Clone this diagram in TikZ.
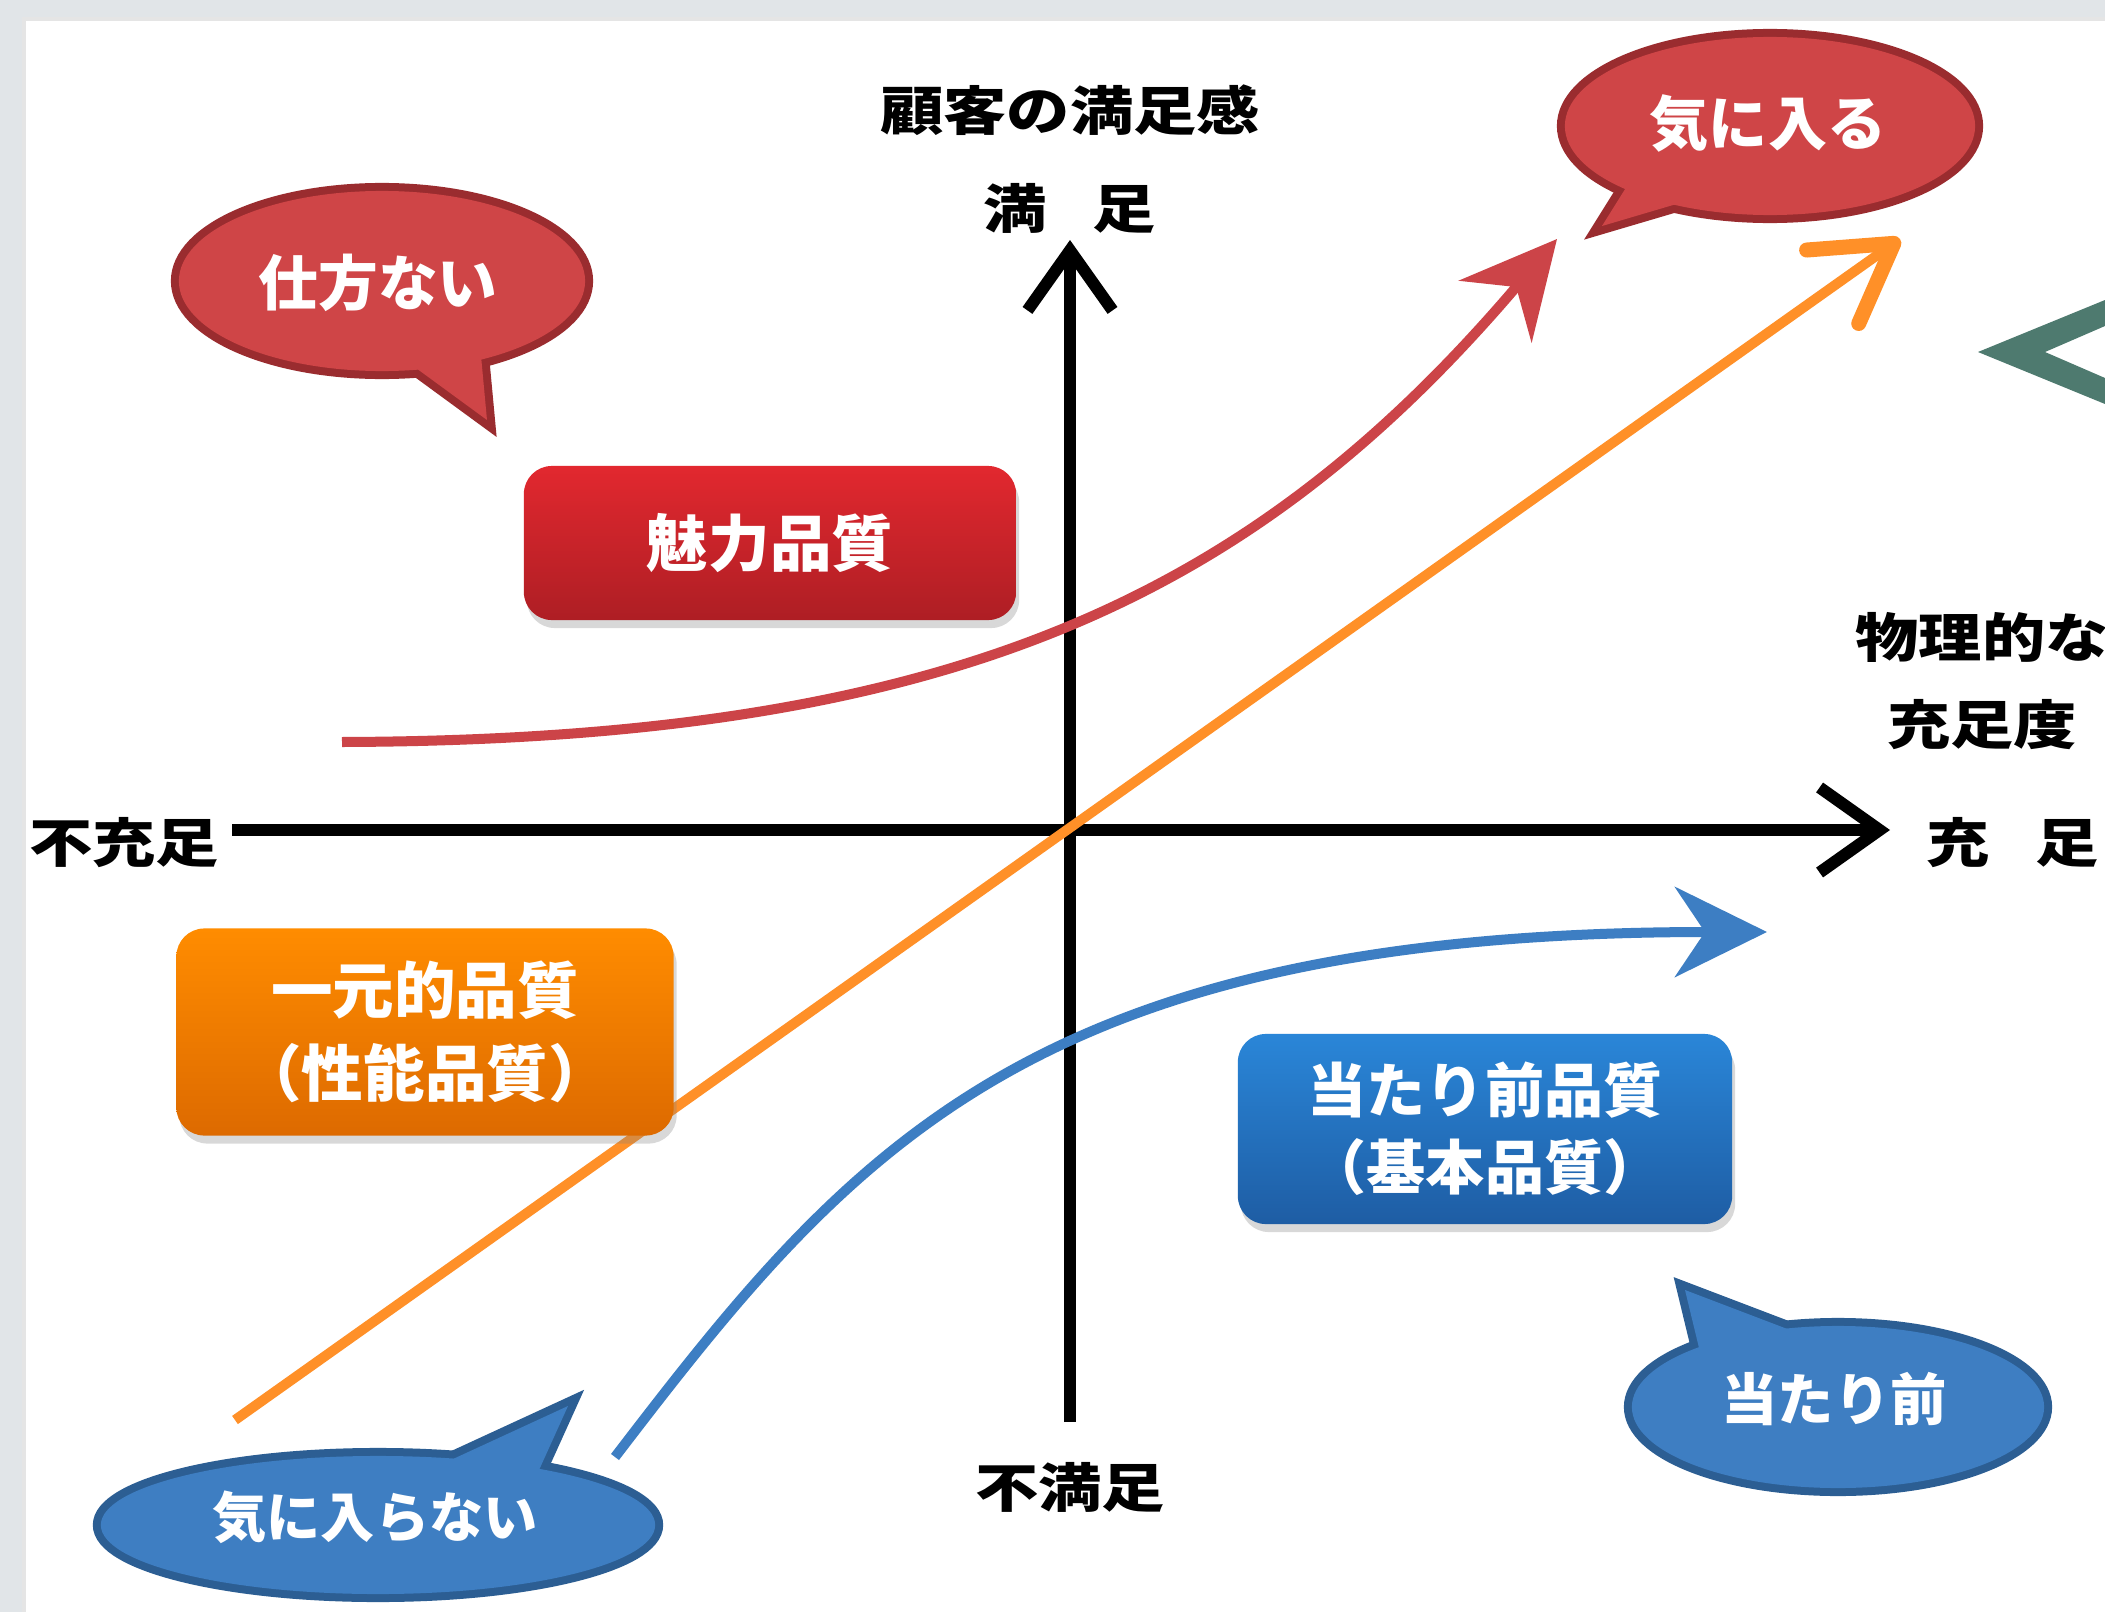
\documentclass[tikz,border=0pt]{standalone}
\usepackage{fontspec}
\setmainfont{Noto Sans CJK JP}
\newfontfamily\jpax[FakeStretch=1.2]{Noto Sans CJK JP}
\newfontfamily\jp{Noto Sans CJK JP}
\usetikzlibrary{arrows.meta,shadows}
\definecolor{redF}{HTML}{CF4547}
\definecolor{redB}{HTML}{9A2C2F}
\definecolor{bluF}{HTML}{3E7EC2}
\definecolor{bluB}{HTML}{2C5E93}
\definecolor{redC}{HTML}{CC4448}
\definecolor{oraC}{HTML}{FF9028}
\definecolor{bluC}{HTML}{3D7EC3}
\definecolor{chevC}{HTML}{4E7A6F}
\definecolor{bandG}{HTML}{E1E5E8}
\definecolor{boxRt}{HTML}{E2282F}
\definecolor{boxRb}{HTML}{AE1E24}
\definecolor{boxOt}{HTML}{FF8C00}
\definecolor{boxOb}{HTML}{DD6A00}
\definecolor{boxBt}{HTML}{2A86D8}
\definecolor{boxBb}{HTML}{1E5DA4}
\begin{document}
\begin{tikzpicture}[x=0.01cm,y=-0.01cm,
  axlab/.style={inner sep=0pt, text=black, align=center, font={\jpax\bfseries\fontsize{15pt}{24.7pt}\selectfont}},
  qbox/.style={rounded corners=0.28cm, text=white, align=center, inner sep=0pt,
    drop shadow={shadow xshift=0.03cm, shadow yshift=-0.08cm, opacity=0.3}},
  blab/.style={text=white, inner sep=0pt},
  axisline/.style={line width=0.12cm, draw=black, -{Straight Barb[length=0.6cm, width=0.85cm, line width=0.12cm, sharp]}},
  curveR/.style={draw=redC, line width=0.1cm, -{Stealth[length=0.95cm, width=0.95cm, inset=0.32cm]}},
  curveO/.style={draw=oraC, line width=0.1cm, -{Straight Barb[length=0.75cm, width=0.9cm, line width=0.15cm, round]}},
  curveB/.style={draw=bluC, line width=0.1cm, -{Stealth[length=0.92cm, width=0.9cm, inset=0.3cm]}},
  bubR/.style={draw=redB, fill=redF, line width=0.16cm, line join=miter},
  bubB/.style={draw=bluB, fill=bluF, line width=0.16cm, line join=miter},
]
\useasboundingbox (0,0) rectangle (2105,1612);
% background panel
\fill[bandG] (0,0) rectangle (2105,1612);
\fill[white] (24,19) rectangle (2105,1612);
\draw[black!10, line width=0.04cm] (24,1612) -- (24,19) -- (2105,19);

% chevron at right
\fill[chevC] (2105,300) -- (1978,352) -- (2105,404) -- (2105,378) -- (2045,352) -- (2105,326) -- cycle;

% axes
\coordinate (xL) at (232,830);
\coordinate (xR) at (1890,830);
\coordinate (yB) at (1070,1422);
\coordinate (yT) at (1070,240);
\draw[axisline] (xL) -- (xR);
\draw[axisline] (yB) -- (yT);

% axis labels
\node[axlab] (ylab) at (1070,110) {顧客の満足感};
\node[axlab] (ytop) at (1070,208) {満\hspace{13pt}足};
\node[axlab] (ybot) at (1070,1487) {不満足};
\node[axlab] (xleft) at (124,843) {不充足};
\node[axlab] (xright) at (2013,843) {充\hspace{13pt}足};
\node[axlab] (xlab) at (1982,681) {物理的な\\充足度};

% curves
\coordinate (rS) at (342,742);
\coordinate (rE) at (1557,239);
\coordinate (oS) at (235,1420);
\coordinate (oE) at (1900,239);
\coordinate (bS) at (615,1457);
\coordinate (bE) at (1767,932);
\draw[curveR] (rS) .. controls (950,740) and (1250,600) .. (rE);
\draw[curveO] (oS) -- (oE);
\draw[curveB] (bS) .. controls (850,1150) and (1030,932) .. (bE);

% quality boxes
\node[qbox, minimum width=4.92cm, minimum height=1.54cm, top color=boxRt, bottom color=boxRb,
  font={\jp\bfseries\fontsize{17.5pt}{21pt}\selectfont}] (boxA) at (770,543) {魅力品質};
\node[qbox, minimum width=4.97cm, minimum height=2.07cm, top color=boxOt, bottom color=boxOb,
  font={\jp\bfseries\fontsize{17.5pt}{23.6pt}\selectfont}] (boxB) at (425,1032) {一元的品質\\（性能品質）};
\node[qbox, minimum width=4.94cm, minimum height=1.90cm, top color=boxBt, bottom color=boxBb,
  font={\jp\bfseries\fontsize{16.8pt}{22pt}\selectfont}] (boxC) at (1485,1129) {当たり前品質\\（基本品質）};

% bubble 1: 仕方ない
\draw[bubR] (382,281) ellipse [x radius=2.03cm, y radius=0.90cm];
\draw[bubR] (405,360) -- (487,420) -- (480,345);
\fill[redF] (382,281) ellipse [x radius=2.03cm, y radius=0.90cm];
\fill[redF] (405,360) -- (487,420) -- (480,345) -- cycle;
\node[blab, font={\jp\bfseries\fontsize{17pt}{20pt}\selectfont}] (shikata) at (378,283) {仕方ない};

% bubble 2: 気に入る
\draw[bubR] (1770,126) ellipse [x radius=2.05cm, y radius=0.89cm];
\draw[bubR] (1632,178) -- (1602,226) -- (1690,200);
\fill[redF] (1770,126) ellipse [x radius=2.05cm, y radius=0.89cm];
\fill[redF] (1632,178) -- (1602,226) -- (1690,200) -- cycle;
\node[blab, font={\jp\bfseries\fontsize{16.8pt}{20pt}\selectfont}] (kiniiru) at (1768,123) {気に入る};

% bubble 3: 気に入らない
\draw[bubB] (378,1525) ellipse [x radius=2.77cm, y radius=0.69cm];
\draw[bubB] (440,1465) -- (568,1406) -- (530,1490);
\fill[bluF] (378,1525) ellipse [x radius=2.77cm, y radius=0.69cm];
\fill[bluF] (440,1465) -- (568,1406) -- (530,1490) -- cycle;
\node[blab, font={\jp\bfseries\fontsize{15.4pt}{18pt}\selectfont}] (kiniiranai) at (375,1517) {気に入らない};

% bubble 4: 当たり前
\draw[bubB] (1838,1407) ellipse [x radius=2.06cm, y radius=0.81cm];
\draw[bubB] (1700,1352) -- (1685,1290) -- (1790,1330);
\fill[bluF] (1838,1407) ellipse [x radius=2.06cm, y radius=0.81cm];
\fill[bluF] (1700,1352) -- (1685,1290) -- (1790,1330) -- cycle;
\node[blab, font={\jp\bfseries\fontsize{16pt}{19pt}\selectfont}] (atarimae) at (1834,1399) {当たり前};
\end{tikzpicture}
\end{document}
